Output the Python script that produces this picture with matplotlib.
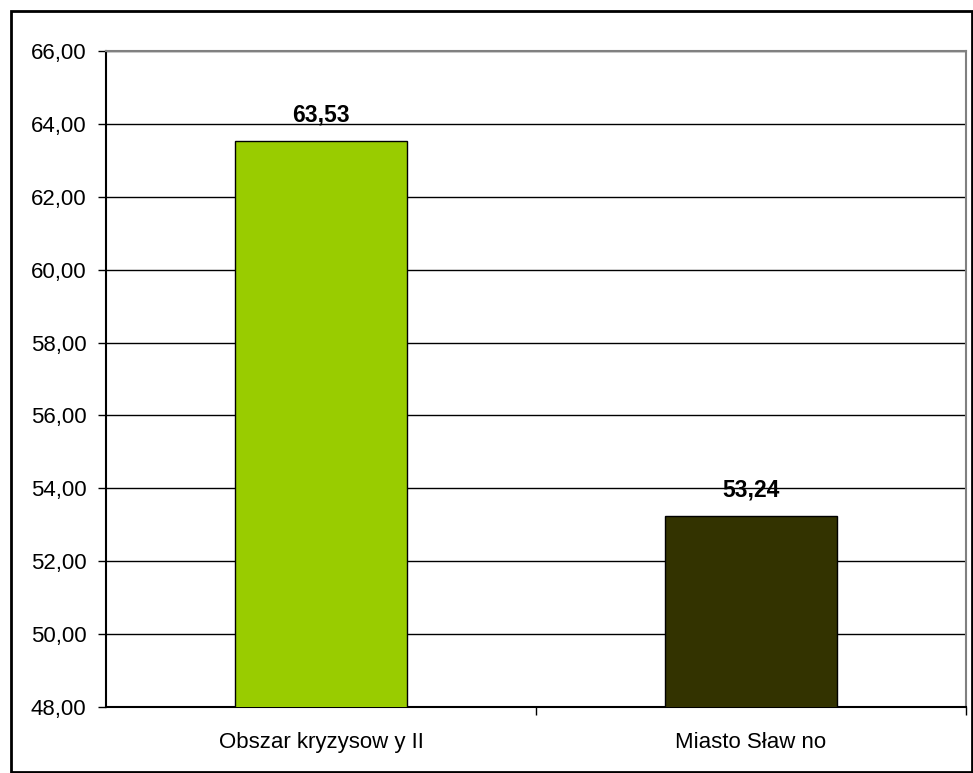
import matplotlib.pyplot as plt
from matplotlib.patches import Rectangle

categories = ["Obszar kryzysow y II", "Miasto Sław no"]
values = [63.53, 53.24]
colors = ["#99CC00", "#333300"]
y_ticks = [48, 50, 52, 54, 56, 58, 60, 62, 64, 66]

plt.rcParams['font.family'] = ['Liberation Sans', 'DejaVu Sans']

fig = plt.figure(figsize=(9.73, 7.73), dpi=100)
# outer frame of the chart
fig.patches.append(Rectangle((11 / 973, 1 / 773), 961 / 973, 761 / 773,
                             transform=fig.transFigure, fill=False,
                             edgecolor='black', linewidth=2))

ax = fig.add_axes([106 / 973, 1 - 707 / 773, 860 / 973, 656 / 773])
x = list(range(len(categories)))
ax.bar(x, values, width=0.4, color=colors, edgecolor='black', linewidth=1, zorder=3)
for xi, v in zip(x, values):
    ax.text(xi, v + 0.4, f"{v:.2f}".replace('.', ','), ha='center', va='bottom',
            fontsize=16.5, fontweight='bold', zorder=4)

ax.set_ylim(48, 66)
ax.set_xlim(-0.5, 1.5)
ax.set_yticks(y_ticks)
ax.set_yticklabels([f"{t:.2f}".replace('.', ',') for t in y_ticks], fontsize=16)
ax.yaxis.grid(True, color='black', linewidth=1, zorder=1)
ax.set_xticks(x)
ax.set_xticklabels(categories, fontsize=16)
ax.tick_params(axis='x', length=0, pad=18)
ax.set_xticks([0.5, 1.5], minor=True)
ax.tick_params(axis='x', which='minor', length=6, width=1, direction='out')
ax.tick_params(axis='y', length=6, width=1, direction='out', pad=8)

ax.spines['left'].set_color('black')
ax.spines['bottom'].set_color('black')
ax.spines['left'].set_linewidth(1.5)
ax.spines['bottom'].set_linewidth(1.5)
ax.spines['top'].set_color('#808080')
ax.spines['right'].set_color('#808080')
ax.spines['top'].set_linewidth(1.5)
ax.spines['right'].set_linewidth(1.5)

fig.savefig('out.png', dpi=100)
